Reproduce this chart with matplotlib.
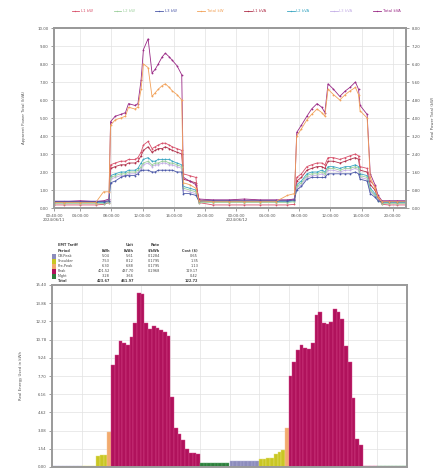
import matplotlib
matplotlib.use('Agg')
import matplotlib.pyplot as plt

# ---------------- top chart data (hours since 00:00 of day 1) ----------------
hours = [0.67, 2, 4, 6, 7,
         7.7, 7.9, 8.5, 9.2, 9.8, 10.2, 11.0, 11.4, 11.8, 12.1, 12.7, 13.2, 13.6, 14.0,
         14.5, 14.9, 15.4, 15.8, 16.4, 17.0, 17.2, 18.0, 18.8, 19.2,
         21, 23, 25, 27, 29, 30.5, 31.4,
         31.7, 32.3, 33.0, 33.6, 34.3, 34.9, 35.3, 35.7, 36.4, 37.2, 37.9, 38.5, 39.2,
         39.6, 39.8, 40.7, 41.1, 41.7, 42.1, 42.6,
         43.5, 44.5, 45.67]

l1_kw = [0.17, 0.17, 0.17, 0.17, 0.2,
         0.3, 2.4, 2.5, 2.6, 2.6, 2.7, 2.7, 2.8, 3.1, 3.5, 3.7, 3.3, 3.4, 3.5, 3.6, 3.6, 3.5, 3.4, 3.3, 3.2, 1.9, 1.8, 1.7, 0.3,
         0.17, 0.17, 0.17, 0.17, 0.17, 0.17, 0.2,
         1.7, 1.9, 2.3, 2.4, 2.5, 2.5, 2.4, 2.8, 2.8, 2.7, 2.8, 2.9, 3.0, 2.9, 2.3, 2.2, 1.5, 1.2, 0.6, 0.2,
         0.17, 0.17, 0.17]
l2_kw = [0.25, 0.25, 0.25, 0.25, 0.25,
         0.3, 1.7, 1.8, 1.9, 1.9, 2.0, 2.0, 2.1, 2.3, 2.5, 2.6, 2.4, 2.5, 2.5, 2.6, 2.6, 2.5, 2.5, 2.4, 2.3, 1.1, 1.0, 0.9, 0.3,
         0.3, 0.3, 0.3, 0.3, 0.3, 0.3, 0.35,
         1.2, 1.4, 1.8, 1.9, 1.9, 2.0, 1.9, 2.2, 2.2, 2.1, 2.2, 2.2, 2.3, 2.2, 1.8, 1.7, 1.0, 0.7, 0.4, 0.25,
         0.25, 0.25, 0.25]
l3_kw = [0.35, 0.35, 0.35, 0.35, 0.35,
         0.4, 1.4, 1.5, 1.7, 1.8, 1.8, 1.8, 1.9, 2.1, 2.1, 2.1, 2.0, 2.0, 2.1, 2.1, 2.1, 2.1, 2.1, 2.0, 2.0, 0.8, 0.8, 0.7, 0.4,
         0.4, 0.4, 0.4, 0.4, 0.4, 0.4, 0.45,
         1.0, 1.2, 1.6, 1.7, 1.7, 1.7, 1.7, 1.9, 1.9, 1.9, 1.9, 1.9, 2.0, 1.9, 1.6, 1.5, 0.8, 0.6, 0.4, 0.35,
         0.35, 0.35, 0.35]
total_kw = [0.3, 0.3, 0.3, 0.3, 0.9,
            0.9, 4.6, 4.9, 5.0, 5.1, 5.6, 5.5, 5.6, 6.6, 8.0, 7.8, 6.2, 6.4, 6.6, 6.8, 6.9, 6.7, 6.5, 6.3, 6.0, 1.4, 1.3, 1.1, 0.4,
            0.35, 0.35, 0.35, 0.35, 0.35, 0.7, 0.8,
            4.0, 4.4, 4.9, 5.2, 5.5, 5.3, 5.1, 6.6, 6.3, 6.0, 6.3, 6.5, 6.7, 6.3, 5.4, 5.0, 1.7, 1.1, 0.6, 0.35,
            0.35, 0.35, 0.35]
l1_kva = [0.35, 0.35, 0.35, 0.35, 0.35,
          0.4, 2.2, 2.3, 2.4, 2.4, 2.5, 2.5, 2.6, 2.9, 3.2, 3.4, 3.1, 3.2, 3.3, 3.3, 3.4, 3.3, 3.2, 3.1, 3.0, 1.6, 1.5, 1.4, 0.4,
          0.4, 0.4, 0.4, 0.4, 0.4, 0.4, 0.45,
          1.5, 1.7, 2.1, 2.2, 2.3, 2.3, 2.2, 2.6, 2.6, 2.5, 2.6, 2.7, 2.8, 2.7, 2.1, 2.0, 1.3, 1.0, 0.5, 0.35,
          0.35, 0.35, 0.35]
l2_kva = [0.3, 0.3, 0.3, 0.3, 0.3,
          0.35, 1.8, 1.9, 2.0, 2.0, 2.1, 2.1, 2.2, 2.5, 2.7, 2.8, 2.6, 2.6, 2.7, 2.7, 2.7, 2.7, 2.6, 2.5, 2.4, 1.2, 1.1, 1.0, 0.35,
          0.35, 0.35, 0.35, 0.35, 0.35, 0.35, 0.4,
          1.3, 1.5, 1.9, 2.0, 2.0, 2.1, 2.0, 2.3, 2.3, 2.2, 2.3, 2.3, 2.4, 2.3, 1.9, 1.8, 1.1, 0.8, 0.45, 0.3,
          0.3, 0.3, 0.3]
l3_kva = [0.4, 0.4, 0.4, 0.4, 0.4,
          0.45, 1.6, 1.7, 1.8, 1.8, 1.9, 1.9, 2.0, 2.2, 2.4, 2.5, 2.3, 2.4, 2.4, 2.5, 2.5, 2.4, 2.4, 2.3, 2.2, 1.0, 0.9, 0.8, 0.45,
          0.45, 0.45, 0.45, 0.45, 0.45, 0.45, 0.5,
          1.1, 1.3, 1.7, 1.8, 1.8, 1.9, 1.8, 2.1, 2.1, 2.0, 2.1, 2.1, 2.2, 2.1, 1.7, 1.6, 0.9, 0.7, 0.45, 0.4,
          0.4, 0.4, 0.4]
total_kva = [0.35, 0.35, 0.4, 0.35, 0.4,
             0.5, 4.8, 5.1, 5.2, 5.3, 5.8, 5.7, 5.8, 7.1, 8.8, 9.4, 7.5, 7.7, 8.0, 8.4, 8.6, 8.4, 8.2, 7.9, 7.4, 1.7, 1.5, 1.3, 0.5,
             0.45, 0.45, 0.5, 0.45, 0.45, 0.45, 0.5,
             4.2, 4.6, 5.1, 5.5, 5.8, 5.6, 5.3, 6.9, 6.6, 6.2, 6.5, 6.7, 7.0, 6.6, 5.7, 5.2, 1.9, 1.3, 0.7, 0.4,
             0.4, 0.4, 0.4]

series_names = ["L1 kW", "L2 kW", "L3 kW", "Total kW", "L1 kVA", "L2 kVA", "L3 kVA", "Total kVA"]
series_data = [l1_kw, l2_kw, l3_kw, total_kw, l1_kva, l2_kva, l3_kva, total_kva]
series_colors = ['#d8506a', '#9ccf9c', '#4b58a8', '#f2a25a', '#b0304a', '#3aa6c2', '#c4aee6', '#9a2a86']
for s in series_data:
    assert len(s) == len(hours), len(s)

top_tick_hours = [0.67, 4, 8, 12, 16, 20, 24, 28, 32, 36, 40, 44]
top_tick_labels = ["00:40:00\n2024/06/11", "04:00:00", "08:00:00", "12:00:00", "16:00:00", "20:00:00",
                   "00:00:00\n2024/06/12", "04:00:00", "08:00:00", "12:00:00", "16:00:00", "20:00:00"]
left_ticks = [0, 1, 2, 3, 4, 5, 6, 7, 8, 9, 10]

# ---------------- bottom chart data: half-hour energy, 2 days ----------------
energy_kwh = [
    # day 1 00:00-03:30 off-peak
    0.08, 0.08, 0.07, 0.08, 0.08, 0.07, 0.08, 0.08,
    # 04:00-07:00 shoulder
    0.08, 0.07, 0.08, 0.08, 0.9, 1.0, 1.0,
    # 07:30 pre-peak
    3.0,
    # 08:00-19:30 peak
    8.6, 9.5, 10.7, 10.5, 10.3, 11.0, 12.2, 14.7, 14.6, 12.2, 11.7, 11.9, 11.8, 11.6, 11.4, 11.1,
    5.9, 3.3, 2.8, 2.3, 1.5, 1.2, 1.2, 1.1,
    # 20:00-23:30 night
    0.35, 0.35, 0.35, 0.35, 0.35, 0.35, 0.35, 0.35,
    # day 2 00:00-03:30 off-peak
    0.55, 0.55, 0.55, 0.55, 0.55, 0.55, 0.55, 0.55,
    # 04:00-07:00 shoulder
    0.7, 0.7, 0.75, 0.8, 1.1, 1.3, 1.4,
    # 07:30 pre-peak
    3.3,
    # 08:00-19:30 peak
    7.7, 8.9, 9.9, 10.3, 10.1, 10.0, 10.5, 12.9, 13.1, 12.2, 12.1, 12.3, 13.4, 13.1, 12.5, 10.2,
    8.9, 5.8, 2.4, 1.9, 0.06, 0.06, 0.06, 0.06,
    # 20:00-23:30 night
    0.06, 0.06, 0.06, 0.06, 0.06, 0.06, 0.06, 0.06,
]
assert len(energy_kwh) == 96, len(energy_kwh)
bin_start_hours = [i * 0.5 for i in range(len(energy_kwh))]

tariff_names = ["Off-Peak", "Shoulder", "Pre-Peak", "Peak", "Night"]
tariff_colors = {"Off-Peak": '#8c8cbc', "Shoulder": '#c9c624', "Pre-Peak": '#f2aa6e',
                 "Peak": '#b0125c', "Night": '#2d7d3c'}
tariff_edges = {"Off-Peak": '#b0b0d8', "Shoulder": '#e6e47a', "Pre-Peak": '#f8c89a',
                "Peak": '#d84a8c', "Night": '#5aa86a'}


def tariff_of(hour):
    h = hour % 24
    if h < 4:
        return "Off-Peak"
    if h < 7.5:
        return "Shoulder"
    if h < 8:
        return "Pre-Peak"
    if h < 20:
        return "Peak"
    return "Night"


bottom_ticks = [0, 1.54, 3.08, 4.62, 6.16, 7.70, 9.24, 10.78, 12.32, 13.86, 15.40]

table_header1 = ["EMT Tariff", "", "Unit", "Rate", ""]
table_header2 = ["Period", "kWh", "kVAh", "$/kWh", "Cost ($)"]
table_rows = [["Off-Peak", "5.04", "5.61", "0.1284", "0.65"],
              ["Shoulder", "7.53", "8.12", "0.1795", "1.35"],
              ["Pre-Peak", "6.30", "6.88", "0.1795", "1.13"],
              ["Peak", "401.52", "437.70", "0.2968", "119.17"],
              ["Night", "3.28", "3.66", "", "0.42"]]
table_total = ["Total", "423.67", "461.97", "", "122.72"]

# ---------------- figure ----------------
W, H = 441, 471
fig = plt.figure(figsize=(W / 100, H / 100), dpi=100)
FS = 2.8
frame_col = '#9a9a9a'
grid_col = '#e2e2e2'

ax = fig.add_axes([54 / W, 1 - 208 / H, 352 / W, 180 / H])
ax2 = ax.twinx()
for name, data, col in zip(series_names, series_data, series_colors):
    target = ax2 if name.endswith("kW") else ax
    target.plot(hours, data, color=col, lw=0.6, marker='o', ms=1.3, mew=0, label=name)
ax.set_xlim(0.67, 45.67)
ax.set_ylim(0, 10)
ax2.set_ylim(0, 10)
ax.set_yticks(left_ticks)
ax.set_yticklabels([f"{v:.2f}" for v in left_ticks])
ax2.set_yticks(left_ticks)
ax2.set_yticklabels([f"{v * 0.8:.2f}" for v in left_ticks])
ax.set_xticks(top_tick_hours)
ax.set_xticklabels(top_tick_labels)
ax.grid(True, color=grid_col, lw=0.5)
ax.set_axisbelow(True)
for a in (ax, ax2):
    a.tick_params(labelsize=FS, length=2, width=0.4, colors='#555555', pad=2)
    for sp in a.spines.values():
        sp.set_color(frame_col)
        sp.set_linewidth(1.4)
ax.set_ylabel("Apparent Power Total (kVA)", fontsize=FS, color='#555555', labelpad=8)
ax2.set_ylabel("Real Power Total (kW)", fontsize=FS, color='#555555', labelpad=8)

handles = []
for name, col in zip(series_names, series_colors):
    handles.append(plt.Line2D([], [], color=col, lw=0.6, marker='o', ms=1, mew=0))
fig.legend(handles, series_names, loc='center', bbox_to_anchor=(0.535, 1 - 11 / H), ncol=8,
           fontsize=FS, frameon=False, handlelength=2.0, handletextpad=0.4, columnspacing=5.3,
           labelcolor=series_colors)

# bottom chart
bx = fig.add_axes([52 / W, 1 - 467 / H, 355 / W, 182 / H])
cols = [tariff_colors[tariff_of(h)] for h in bin_start_hours]
edges = [tariff_edges[tariff_of(h)] for h in bin_start_hours]
bx.bar(bin_start_hours, energy_kwh, width=0.5, align='edge', color=cols, edgecolor=edges, linewidth=0.3)
bx.set_xlim(0, 48)
bx.set_ylim(0, 15.4)
bx.set_yticks(bottom_ticks)
bx.set_yticklabels([f"{v:.2f}" for v in bottom_ticks])
bx.set_xticks(list(range(4, 48, 4)))
bx.set_xticklabels([])
bx.tick_params(axis='x', length=0)
bx.tick_params(axis='y', labelsize=FS, length=2, width=0.4, colors='#555555', pad=2)
bx.grid(True, color=grid_col, lw=0.5)
bx.set_axisbelow(True)
for sp in bx.spines.values():
    sp.set_color(frame_col)
    sp.set_linewidth(1.4)
bx.set_ylabel("Real Energy Used in kWh", fontsize=FS, color='#555555', labelpad=9)

# tariff table above bottom chart
col_x = [58, 110, 134, 160, 198]
row_y = [245, 250.5, 256, 261, 266, 271, 276, 281]
txt_col = '#444444'


def put_row(vals, y, bold=False):
    for j, v in enumerate(vals):
        if not v:
            continue
        ha = 'left' if j == 0 else 'right'
        fig.text(col_x[j] / W, 1 - y / H, v, fontsize=FS - 0.3, ha=ha, va='center', color=txt_col,
                 fontweight='bold' if bold else 'normal')


put_row(table_header1, row_y[0], bold=True)
put_row(table_header2, row_y[1], bold=True)
for k, row in enumerate(table_rows):
    y = row_y[2 + k]
    fig.patches.append(plt.Rectangle((52 / W, 1 - (y + 2.5) / H), 4 / W, 5 / H, transform=fig.transFigure,
                                     facecolor=tariff_colors[row[0]], edgecolor='none'))
    put_row(row, y)
put_row(table_total, row_y[7], bold=True)

fig.savefig("out.png", dpi=100)
